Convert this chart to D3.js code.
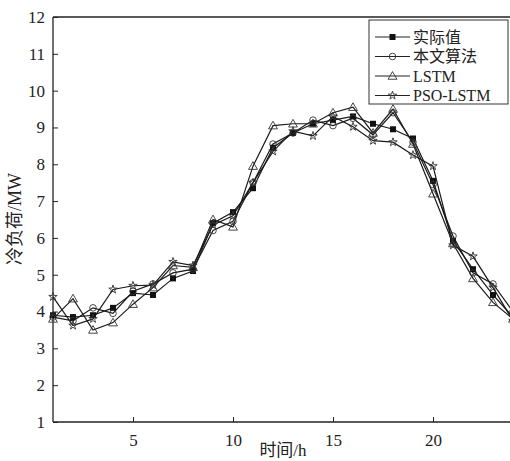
<!DOCTYPE html>
<html><head><meta charset="utf-8">
<script src="https://cdn.jsdelivr.net/npm/d3@7"></script>
<style>body{margin:0;background:#fff}svg{display:block}</style>
</head><body>
<script>
const hours = d3.range(1, 25);
const actual = [3.9,3.85,3.9,4.1,4.5,4.45,4.9,5.1,6.4,6.7,7.35,8.45,8.85,9.1,9.2,9.3,9.1,8.95,8.7,7.55,5.92,5.15,4.45,3.85];
const proposed = [3.85,3.75,4.1,3.95,4.55,4.75,5.05,5.15,6.2,6.45,7.5,8.55,8.85,9.2,9.05,9.25,8.8,9.4,8.6,7.45,6.05,5.05,4.75,4.0];
const lstm = [3.8,4.35,3.5,3.7,4.2,4.65,5.25,5.2,6.5,6.3,7.95,9.05,9.1,9.1,9.4,9.55,8.85,9.5,8.55,7.2,5.85,4.9,4.25,3.8];
const psoLstm = [4.4,3.62,3.8,4.6,4.7,4.72,5.35,5.25,6.35,6.6,7.5,8.35,8.9,8.77,9.3,9.02,8.64,8.6,8.25,7.95,5.8,5.5,4.65,3.75];
const seriesNames = ["实际值","本文算法","LSTM","PSO-LSTM"];
const xTicks = [5,10,15,20];
const yTicks = d3.range(1, 13);

const W = 510, H = 461;
const svg = d3.select("body").append("svg").attr("width", W).attr("height", H);
const x = d3.scaleLinear().domain([1, 24]).range([53, 513]);
const y = d3.scaleLinear().domain([1, 12]).range([422, 17]);
const font = "'Liberation Serif','Noto Sans CJK SC',serif";
const col = "#222";

svg.append("line").attr("x1", 53).attr("x2", W).attr("y1", 17).attr("y2", 17).attr("stroke", col).attr("stroke-width", 1.3);

const xa = svg.append("g").attr("transform", "translate(0,422)")
  .call(d3.axisBottom(x).tickValues(xTicks).tickFormat(d3.format("d")).tickSizeInner(-5).tickSizeOuter(0).tickPadding(12));
const ya = svg.append("g").attr("transform", "translate(53,0)")
  .call(d3.axisLeft(y).tickValues(yTicks).tickFormat(d3.format("d")).tickSizeInner(-5).tickSizeOuter(0).tickPadding(8));
[xa, ya].forEach(g => {
  g.attr("font-family", font).attr("font-size", 17);
  g.select(".domain").attr("stroke", col).attr("stroke-width", 1.3);
  g.selectAll(".tick line").attr("stroke", col);
  g.selectAll("text").attr("fill", "#222");
});
xa.select(".domain").attr("d", "M53,0H" + W);
ya.select(".domain").attr("d", "M0,17V422");

svg.append("text").attr("x", 283).attr("y", 456).attr("text-anchor", "middle")
  .attr("font-family", font).attr("font-size", 17).attr("fill", "#222").text("时间/h");
svg.append("text").attr("transform", "translate(21,219) rotate(-90)").attr("text-anchor", "middle")
  .attr("font-family", font).attr("font-size", 18).attr("fill", "#222").text("冷负荷/MW");

const datasets = [actual, proposed, lstm, psoLstm];
const line = d3.line().x((d, i) => x(hours[i])).y(d => y(d));
const plot = svg.append("g");

function marker(g, k, cx, cy) {
  if (k === 0) g.append("rect").attr("x", cx - 3).attr("y", cy - 3).attr("width", 6).attr("height", 6).attr("fill", "#111");
  else if (k === 1) g.append("circle").attr("cx", cx).attr("cy", cy).attr("r", 3.3).attr("fill", "none").attr("stroke", "#333").attr("stroke-width", 0.9);
  else if (k === 2) g.append("path").attr("d", d3.symbol(d3.symbolTriangle, 34)()).attr("transform", `translate(${cx},${cy+0.7})`).attr("fill", "none").attr("stroke", "#333").attr("stroke-width", 0.9);
  else g.append("path").attr("d", d3.symbol(d3.symbolStar, 22)()).attr("transform", `translate(${cx},${cy})`).attr("fill", "none").attr("stroke", "#333").attr("stroke-width", 0.9);
}

datasets.forEach(ds => {
  plot.append("path").datum(ds).attr("d", line).attr("fill", "none").attr("stroke", "#1a1a1a").attr("stroke-width", 1.2);
});
datasets.forEach((ds, k) => {
  ds.forEach((v, i) => marker(plot, k, x(hours[i]), y(v)));
});

const lg = svg.append("g");
lg.append("rect").attr("x", 369).attr("y", 20).attr("width", 139).attr("height", 84)
  .attr("fill", "#fff").attr("stroke", "#333").attr("stroke-width", 1);
seriesNames.forEach((name, k) => {
  const ry = 37 + k * 19.5;
  lg.append("line").attr("x1", 375).attr("x2", 410).attr("y1", ry).attr("y2", ry).attr("stroke", "#222").attr("stroke-width", 1.1);
  marker(lg, k, 392.5, ry);
  lg.append("text").attr("x", 413).attr("y", ry + 5.5).attr("font-family", font).attr("font-size", 16).attr("fill", "#222").text(name);
});
</script>
</body></html>
